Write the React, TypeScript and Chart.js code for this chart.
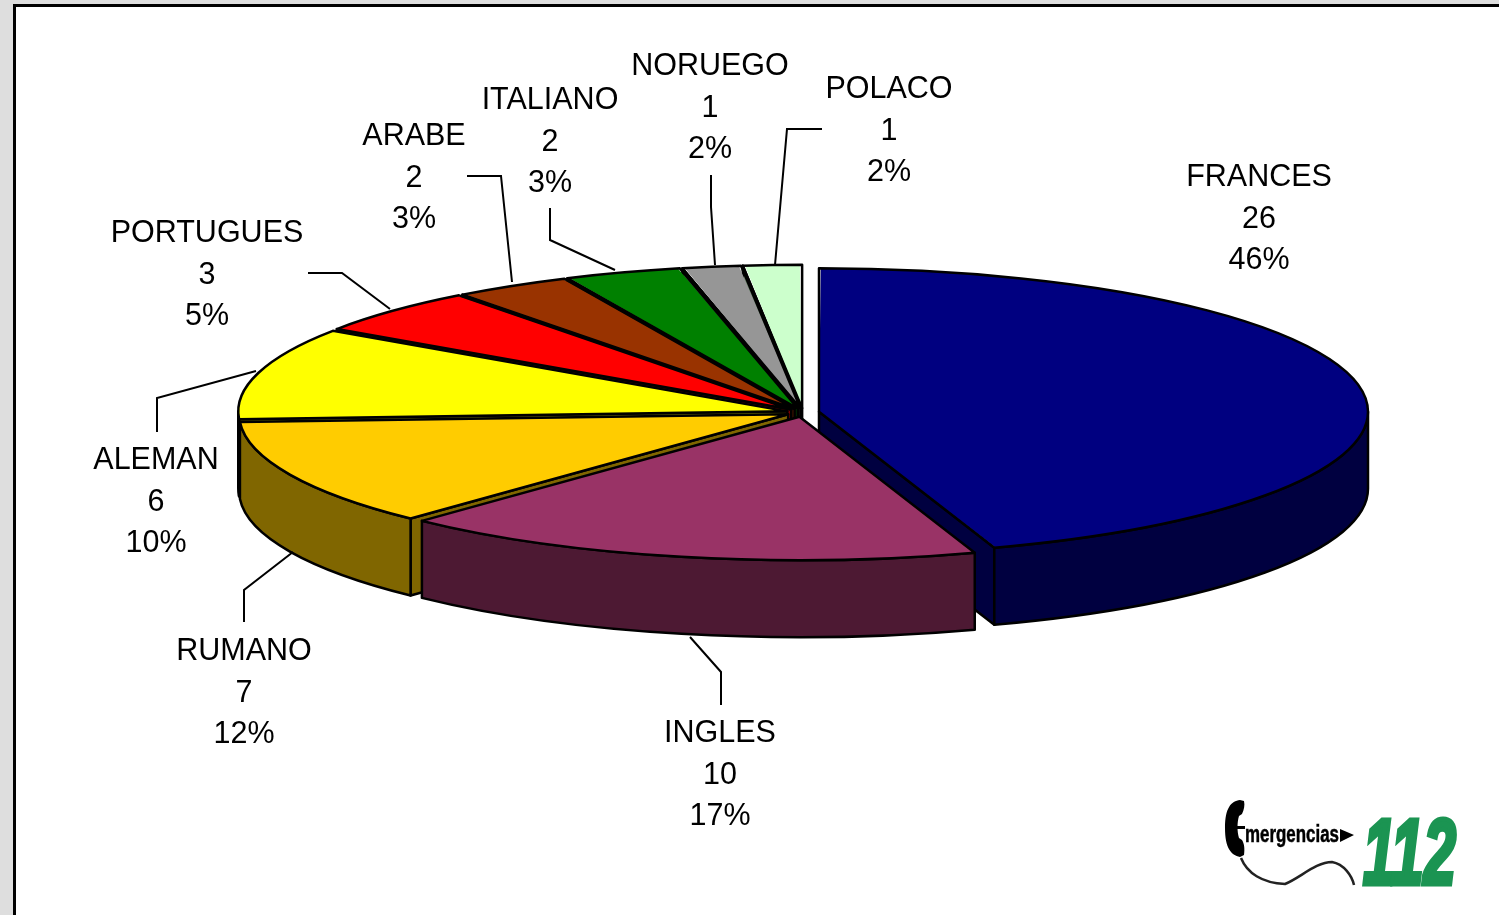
import React, { useEffect, useRef } from "react";
import { Chart, registerables } from "chart.js";

Chart.register(...registerables);

const categories = ["FRANCES", "INGLES", "RUMANO", "ALEMAN", "PORTUGUES", "ARABE", "ITALIANO", "NORUEGO", "POLACO"];
const counts = [26, 10, 7, 6, 3, 2, 2, 1, 1];
const percents = ["46%", "17%", "12%", "10%", "5%", "3%", "3%", "2%", "2%"];
const topColors = ["#000080", "#993366", "#FFCC00", "#FFFF00", "#FF0000", "#993300", "#008000", "#969696", "#CCFFCC"];
const sideColors = ["#000040", "#4D1933", "#806600", "#808000", "#800000", "#4D1900", "#004000", "#4B4B4B", "#668066"];

// Layout of the tilted pie and its callouts (not data)
const W = 1499;
const H = 915;
const CX = 803;
const CY = 412.5;
const RX = 549;
const RY = 143.5;
const DEPTH = 77;
const SLICE_OFFSET = 52;
const LINE_WIDTH = 2.5;
const labelCenters = [
  [1259, 178], [720, 734], [244, 652], [156, 461], [207, 234],
  [414, 137], [550, 101], [710, 67], [889, 90],
];
const LINE_GAP = 41.4;
const leaders: number[][][] = [
  [],
  [[721, 705], [721, 672], [690, 637]],
  [[244, 622], [244, 590], [293, 552]],
  [[157, 432], [157, 398], [256, 371]],
  [[308, 273], [342, 273], [390, 309]],
  [[467, 176], [501, 176], [512, 282]],
  [[550, 208], [550, 240], [615, 270]],
  [[711, 175], [711, 207], [715, 265]],
  [[822, 129], [787, 129], [775, 265]],
];

const tiltedPie = {
  id: "tiltedPie",
  beforeDatasetsDraw(chart: any) {
    const ctx = chart.ctx as CanvasRenderingContext2D;
    const arcs = chart.getDatasetMeta(0).data as any[];
    const items = arcs.map((arc, i) => {
      const mid = (arc.startAngle + arc.endAngle) / 2;
      const off = (arc.options.offset || 0) / 4;
      // ArcElement.draw grows each slice's radius by offset * (1 - sin(circumference))
      const fix = 1 - Math.sin(Math.min(Math.PI, arc.circumference));
      const drawnRadius = arc.outerRadius + off * fix;
      const sx = RX / drawnRadius;
      const sy = RY / drawnRadius;
      return {
        arc, i, mid, sx, sy,
        ax: CX + Math.cos(mid) * off * sx,
        ay: CY + Math.sin(mid) * off * sy,
      };
    });
    items.sort((a, b) => Math.sin(a.mid) - Math.sin(b.mid));

    ctx.save();
    ctx.lineWidth = LINE_WIDTH;
    ctx.lineJoin = "round";
    ctx.strokeStyle = "#000";
    for (const { arc, i, ax, ay, sx, sy } of items) {
      const t0 = arc.startAngle;
      const t1 = arc.endAngle;
      const px = (t: number) => ax + RX * Math.cos(t);
      const py = (t: number) => ay + RY * Math.sin(t);
      ctx.fillStyle = sideColors[i];

      const face = (t: number) => {
        ctx.beginPath();
        ctx.moveTo(ax, ay);
        ctx.lineTo(px(t), py(t));
        ctx.lineTo(px(t), py(t) + DEPTH);
        ctx.lineTo(ax, ay + DEPTH);
        ctx.closePath();
        ctx.fill();
        ctx.stroke();
      };
      if (Math.cos(t0) < 0) face(t0);
      if (Math.cos(t1) > 0) face(t1);

      const r0 = Math.max(t0, 0);
      const r1 = Math.min(t1, Math.PI);
      if (r1 > r0) {
        ctx.beginPath();
        ctx.ellipse(ax, ay, RX, RY, 0, r0, r1);
        ctx.lineTo(px(r1), py(r1) + DEPTH);
        ctx.ellipse(ax, ay + DEPTH, RX, RY, 0, r1, r0, true);
        ctx.closePath();
        ctx.fill();
        ctx.stroke();
      }

      // top face: the library's own arc, under the tilt transform
      ctx.save();
      ctx.translate(CX, CY);
      ctx.scale(sx, sy);
      ctx.translate(-arc.x, -arc.y);
      arc.draw(ctx);
      ctx.restore();

      ctx.beginPath();
      ctx.moveTo(ax, ay);
      ctx.ellipse(ax, ay, RX, RY, 0, t0, t1);
      ctx.closePath();
      ctx.stroke();
    }
    ctx.restore();
    return false;
  },
  afterDraw(chart: any) {
    const ctx = chart.ctx as CanvasRenderingContext2D;
    ctx.save();
    ctx.strokeStyle = "#000";
    ctx.lineWidth = 2;
    for (const pts of leaders) {
      if (!pts.length) continue;
      ctx.beginPath();
      pts.forEach((p, k) => (k ? ctx.lineTo(p[0], p[1]) : ctx.moveTo(p[0], p[1])));
      ctx.stroke();
    }
    ctx.fillStyle = "#000";
    ctx.font = '30.5px "Liberation Sans", Arial, sans-serif';
    ctx.textAlign = "center";
    ctx.textBaseline = "middle";
    categories.forEach((name, i) => {
      const [x, y] = labelCenters[i];
      ctx.fillText(name, x, y);
      ctx.fillText(String(counts[i]), x, y + LINE_GAP);
      ctx.fillText(percents[i], x, y + LINE_GAP * 2);
    });
    ctx.restore();
  },
};

function Logo() {
  return (
    <svg width={W} height={H} style={{ position: "absolute", left: 0, top: 0 }}>
      <path
        d="M1240 800 C1231 801 1225 808 1225 828 C1225 848 1231 855 1240 857 L1244 855 C1245 848 1244 843 1242 840 L1239 838 C1237 832 1237 822 1239 816 L1242 814 C1244 810 1245 805 1244 801 Z"
        fill="#000"
      />
      <rect x="1236" y="826" width="9" height="3" fill="#000" />
      <path
        d="M1241 858 C1247 873 1262 883 1285 884 C1300 878 1316 862 1332 862 C1344 864 1352 876 1354 885"
        fill="none"
        stroke="#222"
        strokeWidth="2.5"
      />
      <text
        x="1245"
        y="842"
        textLength="94"
        lengthAdjust="spacingAndGlyphs"
        fontFamily='"Liberation Sans Narrow", "Liberation Sans", sans-serif'
        fontWeight="bold"
        fontSize="23"
        fill="#000"
        stroke="#000"
        strokeWidth="0.5"
      >
        mergencias
      </text>
      <polygon points="1340,829 1354,835 1340,842" fill="#000" />
      <text
        x="1363"
        y="883.5"
        textLength="93"
        lengthAdjust="spacingAndGlyphs"
        fontFamily='"Liberation Sans", sans-serif'
        fontWeight="bold"
        fontStyle="italic"
        fontSize="93"
        fill="#1B9452"
        stroke="#1B9452"
        strokeWidth="5"
      >
        112
      </text>
    </svg>
  );
}

export default function App() {
  const ref = useRef<HTMLCanvasElement | null>(null);
  useEffect(() => {
    document.body.style.margin = "0";
    document.body.style.overflow = "hidden";
    const chart = new Chart(ref.current as HTMLCanvasElement, {
      type: "pie",
      data: {
        labels: categories,
        datasets: [
          {
            data: counts,
            backgroundColor: topColors,
            borderWidth: 0,
            offset: SLICE_OFFSET,
          },
        ],
      },
      options: {
        animation: false,
        responsive: false,
        events: [],
        plugins: { legend: { display: false }, tooltip: { enabled: false } },
      },
      plugins: [tiltedPie],
    } as any);
    return () => chart.destroy();
  }, []);
  return (
    <div style={{ position: "fixed", left: 0, top: 0, width: W, height: H, overflow: "hidden", background: "#DEDEDE" }}>
      <div
        style={{
          position: "absolute",
          left: 13,
          top: 4,
          width: W - 13,
          height: H - 4,
          background: "#fff",
          borderLeft: "3px solid #000",
          borderTop: "3px solid #000",
          boxSizing: "border-box",
        }}
      />
      <canvas ref={ref} width={W} height={H} style={{ position: "absolute", left: 0, top: 0 }} />
      <Logo />
    </div>
  );
}
